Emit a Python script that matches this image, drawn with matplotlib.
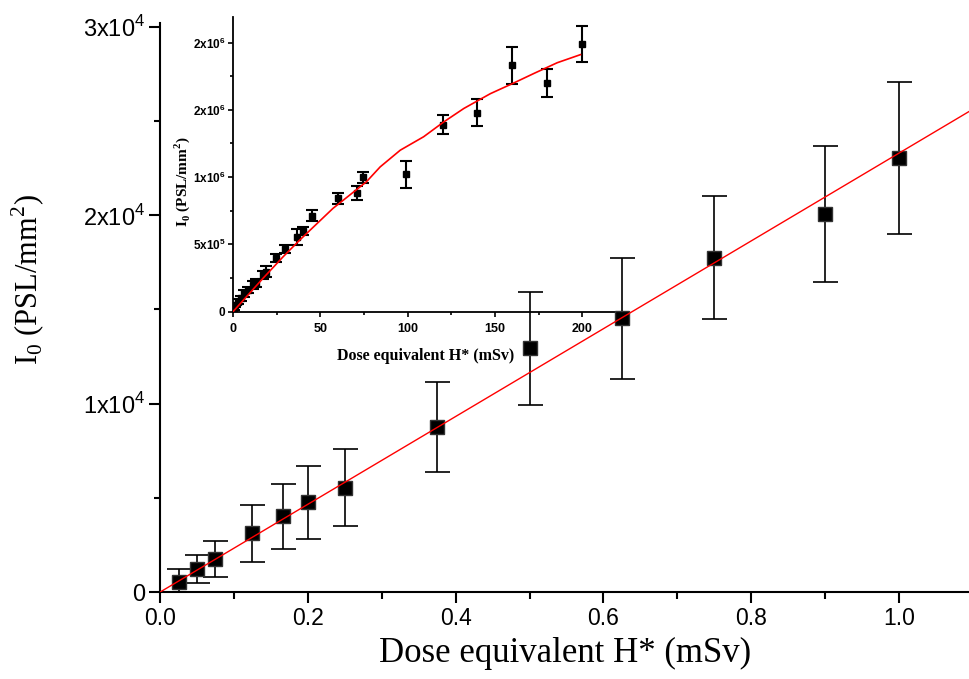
# -*- coding: utf-8 -*-
import numpy as np
import matplotlib
matplotlib.use('Agg')
import matplotlib.pyplot as plt
from matplotlib.ticker import FixedLocator, MultipleLocator

# main plot: dose (mSv) vs I0
dose = [0.025, 0.05, 0.075, 0.125, 0.167, 0.2, 0.25, 0.375, 0.5, 0.625, 0.75, 0.9, 1.0]
i0 = [530, 1215, 1745, 3115, 4015, 4755, 5545, 8770, 12940, 14530, 17750, 20070, 23030]
i0_err = [700, 740, 965, 1500, 1720, 1950, 2030, 2400, 3000, 3220, 3250, 3620, 4040]
fit_slope = 23300  # PSL/mm2 per mSv
fit_range = [0, 1.1]

main_yticks = [0, 1e4, 2e4, 3e4]
main_ylabels = ['0', '1x10$^\\mathregular{4}$', '2x10$^\\mathregular{4}$', '3x10$^\\mathregular{4}$']
main_xticks = [0.0, 0.2, 0.4, 0.6, 0.8, 1.0]
main_xlabels = ['0.0', '0.2', '0.4', '0.6', '0.8', '1.0']

# inset: high dose range
dose_hi = [0.6, 1.4, 2.7, 4.6, 6.5, 8.4, 11.3, 13.2, 17, 19, 24.7, 29.9, 36.6, 40, 45.2,
           60.1, 71, 74.5, 99, 120, 140, 160, 180, 200]
i0_hi = [0.03e6, 0.05e6, 0.074e6, 0.10e6, 0.137e6, 0.161e6, 0.198e6, 0.21e6, 0.272e6, 0.297e6,
         0.396e6, 0.466e6, 0.552e6, 0.599e6, 0.713e6, 0.842e6, 0.883e6, 0.998e6, 1.02e6,
         1.39e6, 1.48e6, 1.83e6, 1.70e6, 1.99e6]
i0_hi_err = [1.5e4, 1.5e4, 2e4, 2e4, 2.5e4, 2.5e4, 3e4, 3e4, 3e4, 4e4, 3e4, 3e4, 6e4, 3e4, 4e4,
             4e4, 5e4, 4e4, 1e5, 7e4, 1e5, 1.35e5, 1.05e5, 1.35e5]
curve_x = [0, 17.2, 28.7, 38.2, 57.3, 76.4, 84.3, 95.8, 109.2, 120.7, 132.2, 147.4, 160.9,
           172.3, 185.7, 199]
curve_y = [0, 0.248e6, 0.408e6, 0.532e6, 0.768e6, 0.965e6, 1.076e6, 1.20e6, 1.30e6, 1.41e6,
           1.51e6, 1.62e6, 1.70e6, 1.77e6, 1.85e6, 1.91e6]

inset_yticks = [0, 5e5, 1e6, 1.5e6, 2e6]
inset_ylabels = ['0', '5x10$^\\mathregular{5}$', '1x10$^\\mathregular{6}$',
                 '2x10$^\\mathregular{6}$', '2x10$^\\mathregular{6}$']
inset_xticks = [0, 50, 100, 150, 200]

serif = ['Liberation Serif', 'DejaVu Serif']
sans = ['Liberation Sans', 'DejaVu Sans']

fig = plt.figure(figsize=(9.7, 6.79), dpi=100)

ax = fig.add_axes([0.165, 0.128, 0.835, 0.838], zorder=2)
ax.patch.set_visible(False)
ax.errorbar(dose, i0, yerr=i0_err, fmt='s', color='black', ms=10, mec='#333333',
            ecolor='black', elinewidth=1.2, capsize=9, capthick=1.2, zorder=3)
fx = np.array(fit_range)
ax.plot(fx, fit_slope * fx, color='red', lw=1.0, zorder=4)

ax.set_xlim(0, 1.096)
ax.set_ylim(0, 3.02e4)
for s in ['top', 'right']:
    ax.spines[s].set_visible(False)
for s in ['left', 'bottom']:
    ax.spines[s].set_linewidth(1.5)
ax.xaxis.set_major_locator(FixedLocator(main_xticks))
ax.set_xticklabels(main_xlabels, family=sans, fontsize=16.5)
ax.xaxis.set_minor_locator(MultipleLocator(0.1))
ax.yaxis.set_major_locator(FixedLocator(main_yticks))
ax.set_yticklabels(main_ylabels, family=sans, fontsize=17)
ax.yaxis.set_minor_locator(MultipleLocator(5000))
ax.tick_params(axis='both', which='major', direction='out', length=8, width=1.5, pad=3)
ax.tick_params(axis='x', which='minor', direction='out', length=5, width=1.5)
ax.tick_params(axis='y', which='minor', direction='out', length=4.5, width=1.5)

ax.set_xlabel('Dose equivalent H* (mSv)', family=serif, fontsize=25)
ax.xaxis.set_label_coords(0.5, -0.078)
ax.set_ylabel('I$_\\mathregular{0}$ (PSL/mm$^\\mathregular{2}$)', family=serif, fontsize=22)
ax.yaxis.set_label_coords(-0.14, 0.55)

# inset
axin = fig.add_axes([0.2402, 0.541, 0.405, 0.434], zorder=1)
axin.patch.set_visible(False)
axin.errorbar(dose_hi, i0_hi, yerr=i0_hi_err, fmt='s', color='black', ms=5,
              ecolor='black', elinewidth=1.5, capsize=4, capthick=1.5, zorder=3)
axin.plot(curve_x, curve_y, color='red', lw=1.2, zorder=4)
axin.set_xlim(0, 225)
axin.set_ylim(0, 2.19e6)
for s in ['top', 'right']:
    axin.spines[s].set_visible(False)
for s in ['left', 'bottom']:
    axin.spines[s].set_linewidth(1.3)
axin.xaxis.set_major_locator(FixedLocator(inset_xticks))
axin.set_xticklabels([str(t) for t in inset_xticks], family=sans, fontsize=9, fontweight='bold')
axin.xaxis.set_minor_locator(MultipleLocator(25))
axin.yaxis.set_major_locator(FixedLocator(inset_yticks))
axin.set_yticklabels(inset_ylabels, family=sans, fontsize=8.5, fontweight='bold')
axin.yaxis.set_minor_locator(MultipleLocator(2.5e5))
axin.tick_params(axis='x', which='major', direction='out', length=3.5, width=1.2, pad=5)
axin.tick_params(axis='y', which='major', direction='out', length=3.5, width=1.2, pad=2)
axin.tick_params(axis='both', which='minor', direction='out', length=2.2, width=1.2)
axin.set_xlabel('Dose equivalent H* (mSv)', family=serif, fontsize=11.5, fontweight='bold')
axin.xaxis.set_label_coords(0.491, -0.125)
axin.set_ylabel('I$_\\mathregular{0}$ (PSL/mm$^\\mathregular{2}$)', family=serif, fontsize=11,
                fontweight='bold')
axin.yaxis.set_label_coords(-0.105, 0.44)

fig.savefig('out.png', dpi=100)
